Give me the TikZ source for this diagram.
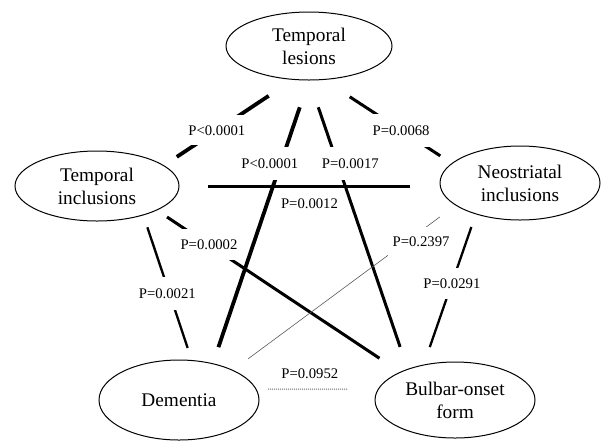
\documentclass[tikz,border=0pt]{standalone}
\usepackage{fontspec}
\setmainfont{Liberation Serif}
\usetikzlibrary{shapes.geometric}

\tikzset{
  knude/.style={ellipse,draw,line width=1pt,inner sep=0pt,outer sep=0pt,
    align=center,font=\fontsize{19.3}{23}\selectfont},
  ptekst/.style={text=black,inner sep=2pt,text height=10pt,text depth=0pt,
    font=\fontsize{14.7}{17}\selectfont},
  pval/.style={ptekst,fill=white,inner ysep=11pt},
  tyk/.style={line width=3.8pt},
  mellem/.style={line width=3pt},
  tynd/.style={line width=2.3pt},
  svag/.style={line width=0.6pt,gray!70!black},
  prik/.style={line width=1pt,densely dotted,gray!80!black}
}

\begin{document}
\begin{tikzpicture}[x=1pt,y=-1pt]
  %ramme
  	\useasboundingbox (0,0) rectangle (601,440);

  %noder
  	\node[knude,minimum width=166pt,minimum height=68pt] (tl) at (309,46) {Temporal\\lesions};
  	\node[knude,minimum width=164pt,minimum height=70pt] (ti) at (97,186) {Temporal\\inclusions};
  	\node[knude,minimum width=160pt,minimum height=74pt] (ni) at (520,183) {Neostriatal\\inclusions};
  	\node[knude,minimum width=160pt,minimum height=80pt] (de) at (179,400) {Dementia};
  	\node[knude,minimum width=160pt,minimum height=76pt] (bo) at (455,400) {Bulbar-onset\\form};

  %fra temporal lesions
  	\draw[tyk,shorten <=29.7pt,shorten >=15.8pt] (tl.245) -- node[pval,pos=0.59,inner ysep=10pt] (p1) {P<0.0001} (ti.17);
  	\draw[tyk,shorten <=28.8pt,shorten >=17.5pt] (tl.south) -- node[pval,pos=0.293,xshift=-11pt,inner ysep=11.5pt] (p2) {P<0.0001} (de.47);
  	\draw[mellem,shorten <=28.8pt,shorten >=23.7pt] (tl.south) -- node[pval,pos=0.287,xshift=13pt,inner ysep=11.5pt] (p3) {P=0.0017} (bo.147);
  	\draw[mellem,shorten <=31.7pt,shorten >=14pt] (tl.293) -- node[pval,pos=0.605,inner ysep=11.5pt] (p4) {P=0.0068} (ni.164);

  %fra temporal inclusions
  	\draw[mellem,shorten <=29pt,shorten >=30pt] (ti.east) -- node[ptekst,pos=0.5,below=9pt] (p5) {P=0.0012} (ti.east -| ni.west);
  	\draw[mellem,shorten <=12.6pt,shorten >=25.2pt] (ti.338) -- node[pval,pos=0.215,inner ysep=10.5pt] (p6) {P=0.0002} (bo.153);
  	\draw[tynd,shorten <=13pt,shorten >=13.2pt] (ti.328) -- node[pval,pos=0.537,xshift=-2pt,inner ysep=11.5pt] (p7) {P=0.0021} (de.72);

  %fra neostriatal inclusions
  	\draw[svag,shorten <=19.9pt,shorten >=19.2pt] (ni.199) -- node[pval,pos=0.223,xshift=15pt,inner ysep=10pt,inner xsep=5pt] (p8) {P=0.2397} (de.29);
  	\draw[tynd,shorten <=13.9pt,shorten >=19pt] (ni.215) -- node[pval,pos=0.458,inner ysep=10.5pt] (p9) {P=0.0291} (bo.132);

  %dementia - bulbar
  	\draw[prik,shorten <=12pt,shorten >=30.4pt] (de.8) -- node[ptekst,pos=0.44,above=8pt] (p10) {P=0.0952} (bo.172);
\end{tikzpicture}
\end{document}
